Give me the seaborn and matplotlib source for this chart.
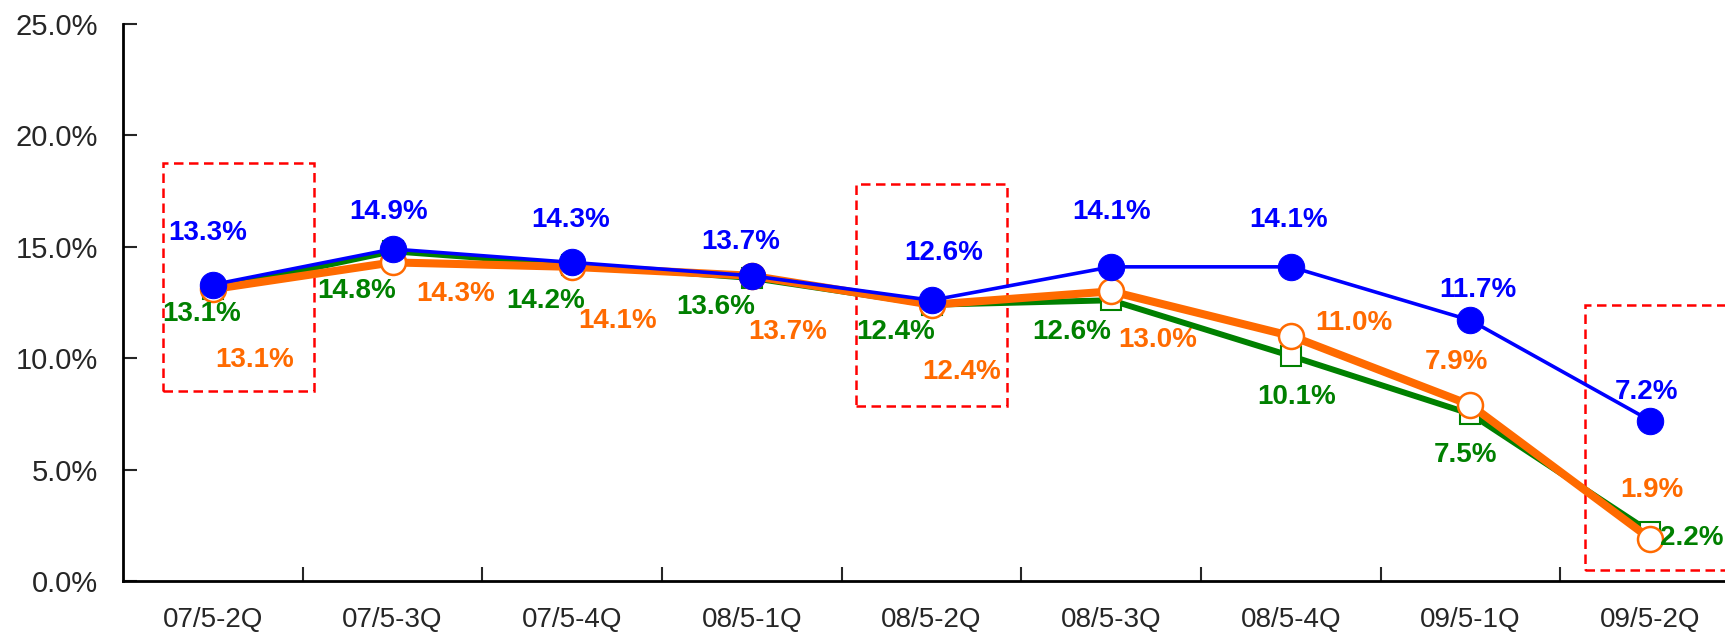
import numpy as np
import pandas as pd
import matplotlib
matplotlib.use("Agg")
import matplotlib.pyplot as plt
from matplotlib.patches import Rectangle
import seaborn as sns

# data
quarters = ["07/5-2Q", "07/5-3Q", "07/5-4Q", "08/5-1Q", "08/5-2Q",
            "08/5-3Q", "08/5-4Q", "09/5-1Q", "09/5-2Q"]
blue_vals = [13.3, 14.9, 14.3, 13.7, 12.6, 14.1, 14.1, 11.7, 7.2]
green_vals = [13.1, 14.8, 14.2, 13.6, 12.4, 12.6, 10.1, 7.5, 2.2]
orange_vals = [13.1, 14.3, 14.1, 13.7, 12.4, 13.0, 11.0, 7.9, 1.9]

# label placement (x shift in categories, y in %)
blue_lbl_dx = [-0.03, -0.02, -0.01, -0.06, 0.07, 0.0, -0.01, 0.04, -0.02]
blue_lbl_y = [15.6, 16.55, 16.2, 15.2, 14.7, 16.55, 16.2, 13.06, 8.5]
green_lbl_dx = [-0.06, -0.2, -0.15, -0.2, -0.2, -0.22, 0.03, -0.03, 0.23]
green_lbl_y = [12.0, 13.0, 12.55, 12.3, 11.18, 11.18, 8.26, 5.66, 1.93]
orange_lbl_dx = [0.23, 0.35, 0.25, 0.2, 0.17, 0.26, 0.35, -0.08, 0.01]
orange_lbl_y = [9.9, 12.9, 11.66, 11.18, 9.38, 10.82, 11.58, 9.83, 4.08]

# highlighted quarters: (x0, x1, y0, y1)
boxes = [(-0.28, 0.565, 8.55, 18.75), (3.58, 4.42, 7.85, 17.8), (7.64, 8.7, 0.49, 12.39)]

BLUE = "#0000FF"
GREEN = "#008000"
ORANGE = "#FF6A00"

sns.set_style("ticks")
plt.rcParams["font.family"] = ["Liberation Sans", "DejaVu Sans"]

x = np.arange(len(quarters))
df = pd.DataFrame({"x": x, "blue": blue_vals, "green": green_vals, "orange": orange_vals})

fig = plt.figure(figsize=(17.25, 6.35), dpi=100)
ax = fig.add_axes([123 / 1725, 54 / 635, (1740 - 123) / 1725, 557 / 635])

sns.lineplot(data=df, x="x", y="green", ax=ax, color=GREEN, lw=4.3, marker="s",
             markersize=14, markerfacecolor="white", markeredgecolor=GREEN,
             markeredgewidth=1.5, zorder=3)
sns.lineplot(data=df, x="x", y="orange", ax=ax, color=ORANGE, lw=5.8, marker="o",
             markersize=18, markerfacecolor="white", markeredgecolor=ORANGE,
             markeredgewidth=1.8, zorder=4)
sns.lineplot(data=df, x="x", y="blue", ax=ax, color=BLUE, lw=2.6, marker="o",
             markersize=19, markerfacecolor=BLUE, markeredgecolor=BLUE, zorder=5)

for i in range(len(quarters)):
    ax.text(i + blue_lbl_dx[i], blue_lbl_y[i], f"{blue_vals[i]:.1f}%", color=BLUE,
            fontsize=20, fontweight="bold", ha="center", va="center", zorder=6)
    ax.text(i + green_lbl_dx[i], green_lbl_y[i], f"{green_vals[i]:.1f}%", color=GREEN,
            fontsize=20, fontweight="bold", ha="center", va="center", zorder=6)
    ax.text(i + orange_lbl_dx[i], orange_lbl_y[i], f"{orange_vals[i]:.1f}%", color=ORANGE,
            fontsize=20, fontweight="bold", ha="center", va="center", zorder=6)

for x0, x1, y0, y1 in boxes:
    ax.add_patch(Rectangle((x0, y0), x1 - x0, y1 - y0, fill=False, ec="#FF0000",
                           lw=1.8, ls=(0, (3.8, 2.2)), zorder=2, clip_on=False))

ax.set_xlim(-0.5, 8.5)
ax.set_ylim(0, 25)
ax.set_yticks(np.arange(0, 26, 5))
ax.set_yticklabels([f"{v:.1f}%" for v in np.arange(0, 26, 5)])
ax.set_xticks(x)
ax.set_xticklabels(quarters)
ax.set_xticks(np.arange(0.5, 8.5, 1), minor=True)
ax.tick_params(axis="x", which="major", length=0, pad=19, labelsize=20)
ax.tick_params(axis="x", which="minor", direction="in", length=10, width=1.5)
ax.tick_params(axis="y", direction="in", length=10, width=1.5, pad=18, labelsize=21)
ax.set_xlabel("")
ax.set_ylabel("")
for side in ["top", "right"]:
    ax.spines[side].set_visible(False)
for side in ["left", "bottom"]:
    ax.spines[side].set_linewidth(2)
    ax.spines[side].set_color("black")

fig.savefig("out.png", dpi=100)
